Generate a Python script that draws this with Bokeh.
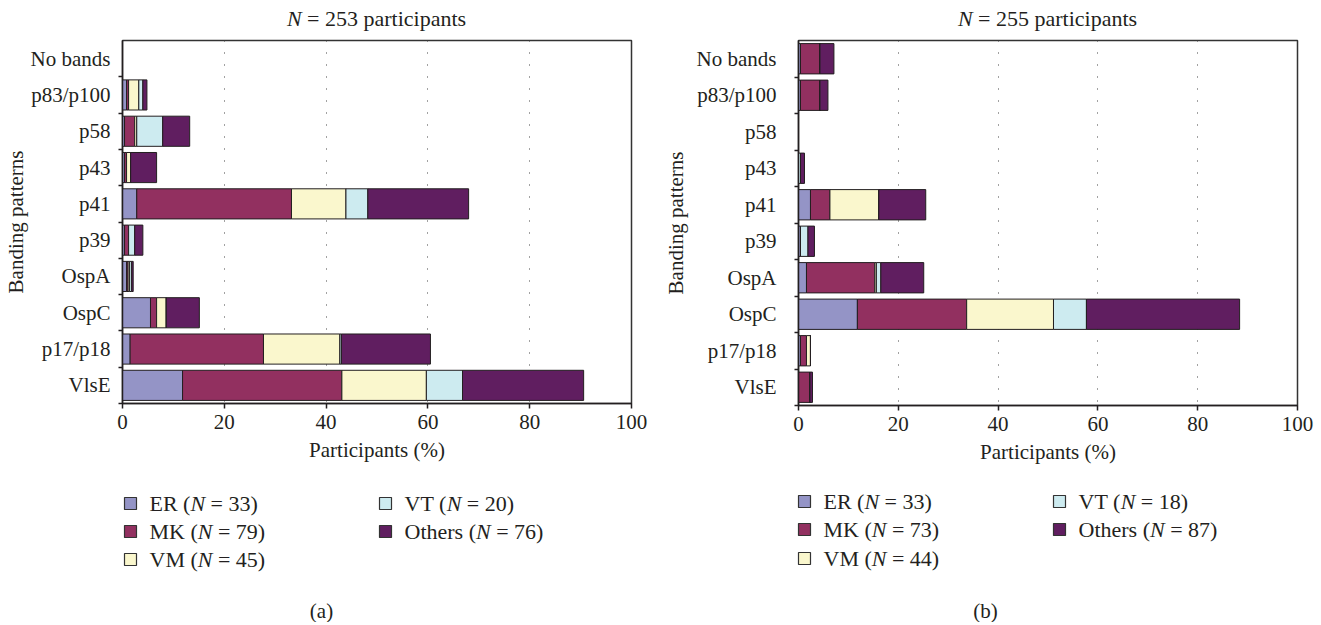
from bokeh.plotting import figure
from bokeh.models import Range1d, FixedTicker, ColumnDataSource
from bokeh.layouts import column, row
from bokeh.embed import file_html
from bokeh.resources import INLINE
from bokeh.core.properties import value

# ---------------- data ----------------
categories = ["No bands", "p83/p100", "p58", "p43", "p41", "p39",
              "OspA", "OspC", "p17/p18", "VlsE"]
series = ["ER", "MK", "VM", "VT", "Others"]
colors = ["#9494c6", "#923060", "#faf7cd", "#cdebf0", "#601e60"]

# panel (a), N = 253 participants (% of participants)
a_er = [0, 0.8, 0.4, 0.4, 2.8, 0.4, 0.8, 5.5, 1.5, 11.8]
a_mk = [0, 0.4, 2.0, 0.4, 30.4, 0.8, 0.3, 1.2, 26.2, 31.3]
a_vm = [0, 2.0, 0.4, 0.8, 10.7, 0.0, 0.3, 1.9, 15.0, 16.6]
a_vt = [0, 0.8, 5.1, 0.0, 4.3, 1.2, 0.4, 0.0, 0.3, 7.1]
a_ot = [0, 0.8, 5.3, 5.1, 19.8, 1.6, 0.3, 6.5, 17.5, 23.8]

# panel (b), N = 255 participants
b_er = [0.4, 0.4, 0, 0.0, 2.4, 0.4, 1.6, 11.8, 0.4, 0.0]
b_mk = [3.9, 3.9, 0, 0.0, 3.9, 0.0, 13.7, 21.9, 1.2, 2.3]
b_vm = [0.0, 0.0, 0, 0.0, 9.8, 0.0, 0.3, 17.4, 0.8, 0.0]
b_vt = [0.0, 0.0, 0, 0.4, 0.0, 1.5, 0.9, 6.6, 0.0, 0.0]
b_ot = [2.8, 1.6, 0, 0.8, 9.4, 1.3, 8.6, 30.7, 0.0, 0.5]

a_total = 253
b_total = 255
a_legend_n = [33, 79, 45, 20, 76]
b_legend_n = [33, 73, 44, 18, 87]
x_ticks = [0, 20, 40, 60, 80, 100]
grid_ticks = [20, 40, 60, 80]
captions = ["(a)", "(b)"]

FONT = "Liberation Serif"
TXT = "#231f20"

# Times / Liberation Serif advance widths (per 1000 em)
W = {' ': 250, '(': 333, ')': 333, '=': 564, 'E': 611, 'R': 667, 'M': 889,
     'K': 722, 'V': 722, 'T': 611, 'O': 722, 't': 278, 'h': 500, 'e': 444,
     'r': 333, 's': 389, 'p': 500, 'a': 444, 'i': 278, 'c': 444, 'n': 500,
     'N': 722}
N_ITALIC = 667


def tw(s, size):
    return sum(W.get(ch, 500) for ch in s) * size / 1000.0


def make_main(vals, w, h, mbl, mbr, mbt, mbb, lab_so, ax_so):
    n = len(categories)
    data = dict(y=[i + 0.5 for i in range(n)])
    for s, v in zip(series, vals):
        data[s] = v
    src = ColumnDataSource(data)
    p = figure(width=w, height=h,
               x_range=Range1d(0, 100), y_range=Range1d(n, 0),
               min_border_left=mbl, min_border_right=mbr,
               min_border_top=mbt, min_border_bottom=mbb,
               output_backend="svg", toolbar_location=None)
    p.title.visible = False
    p.hbar_stack(series, y="y", height=0.83, fill_color=colors,
                 line_color="#231f20", line_width=1, source=src)

    p.xaxis.ticker = FixedTicker(ticks=x_ticks)
    p.xaxis.axis_label = "Participants (%)"
    p.xaxis.major_tick_out = 5
    p.xaxis.major_tick_in = 0
    p.xaxis.minor_tick_out = 0
    p.xaxis.major_label_standoff = 6
    p.xaxis.axis_label_standoff = 6

    p.yaxis.ticker = FixedTicker(ticks=[i + 0.5 for i in range(n)],
                                 minor_ticks=list(range(1, n + 1)))
    p.yaxis.major_label_overrides = {i + 0.5: c for i, c in enumerate(categories)}
    p.yaxis.axis_label = "Banding patterns"
    p.yaxis.major_tick_out = 0
    p.yaxis.major_tick_in = 0
    p.yaxis.minor_tick_out = 4
    p.yaxis.minor_tick_in = 0
    p.yaxis.major_label_standoff = lab_so
    p.yaxis.axis_label_standoff = ax_so

    for ax in (p.xaxis, p.yaxis):
        ax.axis_line_color = "#231f20"
        ax.axis_line_width = 1.5
        ax.major_tick_line_color = "#231f20"
        ax.minor_tick_line_color = "#231f20"
        ax.major_tick_line_width = 1.5
        ax.minor_tick_line_width = 1.5
        ax.major_label_text_font = FONT
        ax.major_label_text_font_size = "21px"
        ax.major_label_text_color = TXT
        ax.axis_label_text_font = FONT
        ax.axis_label_text_font_size = "21px"
        ax.axis_label_text_font_style = "normal"
        ax.axis_label_text_color = TXT

    p.ygrid.visible = False
    p.xgrid.ticker = FixedTicker(ticks=grid_ticks)
    p.xgrid.grid_line_color = "#444444"
    p.xgrid.grid_line_dash = "1 11"
    p.xgrid.grid_line_width = 1
    p.outline_line_color = "#333333"
    p.outline_line_width = 1.5
    p.background_fill_color = "white"
    p.border_fill_color = "white"
    return p


def strip(w, h, y0):
    p = figure(width=w, height=h, x_range=Range1d(0, w),
               y_range=Range1d(y0 + h, y0), min_border=0,
               x_axis_type=None, y_axis_type=None,
               output_backend="svg", toolbar_location=None)
    p.title.visible = False
    p.grid.visible = False
    p.outline_line_color = None
    p.border_fill_color = "white"
    return p


def rich_text(p, x, y, before, after, size):
    """Draw before + italic N + after, left aligned at x."""
    x1 = x + tw(before, size)
    x2 = x1 + (N_ITALIC + W[' ']) * size / 1000.0
    common = dict(text_font=value(FONT), text_font_size=f"{size}px",
                  text_baseline="middle", text_align="left", text_color=TXT)
    if before:
        p.text(x=[x], y=[y], text=[before], text_font_style="normal", **common)
    p.text(x=[x1], y=[y], text=["N"], text_font_style="italic", **common)
    p.text(x=[x2], y=[y], text=[after], text_font_style="normal", **common)


# ---------------- geometry (page pixels) ----------------
TITLE_H = 34
A_MBL, A_FW, A_MBR = 121, 510, 29
B_MBL, B_FW, B_MBR = 137, 500, 20
A_W = A_MBL + A_FW + A_MBR
B_W = B_MBL + B_FW + B_MBR
PAGE_W = A_W + B_W
A_H = 7 + 362 + 67
B_H = 12 + 359 + 67
LEG_Y0 = TITLE_H + max(A_H, B_H)
LEG_H = 150

fig_a = make_main([a_er, a_mk, a_vm, a_vt, a_ot], A_W, A_H,
                  A_MBL, A_MBR, 1, 67, 8, 0)
fig_b = make_main([b_er, b_mk, b_vm, b_vt, b_ot], B_W, B_H,
                  B_MBL, B_MBR, 6, 67, 18, 6)

# titles
title_strip = strip(PAGE_W, TITLE_H, 0)
TS = 22
a_center = A_MBL + A_FW / 2
b_center = A_W + B_MBL + B_FW / 2
for center, tot in ((a_center, a_total), (b_center, b_total)):
    after = f"= {tot} participants"
    width = (N_ITALIC + W[' ']) * TS / 1000.0 + tw(after, TS)
    rich_text(title_strip, center - width / 2, 18, "", after, TS)

# legends and captions
leg = strip(PAGE_W, LEG_H, LEG_Y0)
LS = 22
legend_cfg = [
    (a_legend_n, 130, 149, 385, 404, [503, 531, 559], 321),
    (b_legend_n, 804, 823, 1059, 1078, [501, 529, 558], 985),
]
for k, (ns, sq1, tx1, sq2, tx2, rows, cap_x) in enumerate(legend_cfg):
    slots = [(sq1, tx1, rows[0]), (sq1, tx1, rows[1]), (sq1, tx1, rows[2]),
             (sq2, tx2, rows[0]), (sq2, tx2, rows[1])]
    for (sx, tx, ry), name, col, nval in zip(slots, series, colors, ns):
        leg.rect(x=[sx], y=[ry], width=12, height=12, fill_color=col,
                 line_color="#333333", line_width=1.2)
        rich_text(leg, tx, ry, f"{name} (", f"= {nval})", LS)
    leg.text(x=[cap_x], y=[610], text=[captions[k]], text_font=value(FONT),
             text_font_size="21px", text_align="center",
             text_baseline="middle", text_color=TXT)

layout = column(title_strip, row(fig_a, fig_b), leg)

with open("out.html", "w") as f:
    f.write(file_html(layout, INLINE))
